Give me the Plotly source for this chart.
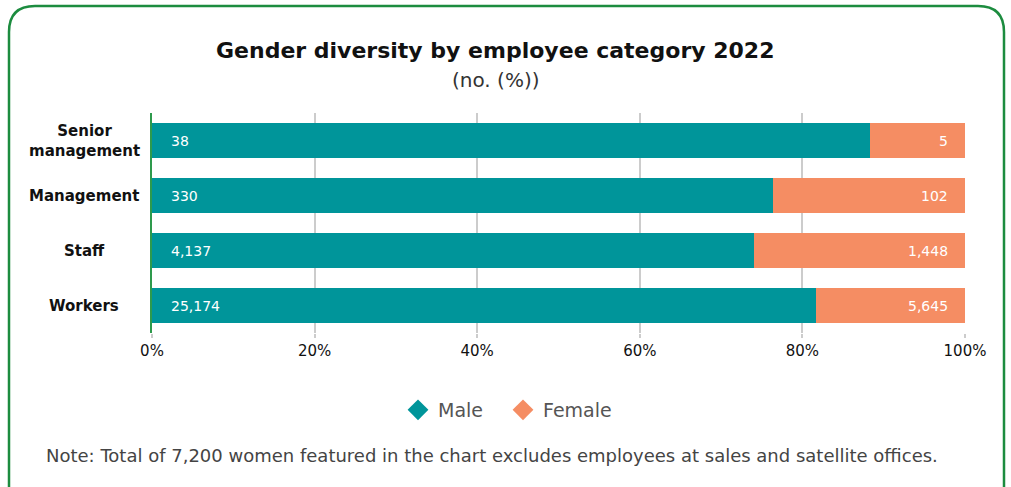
import plotly.graph_objects as go

categories = ["Senior<br>management", "Management", "Staff", "Workers"]
male = [38, 330, 4137, 25174]
female = [5, 102, 1448, 5645]
tick_vals = [0, 20, 40, 60, 80, 100]
tick_text = ["0%", "20%", "40%", "60%", "80%", "100%"]

MALE_C = "#00959a"
FEMALE_C = "#f58d63"
GREEN = "#1c8c3f"
FONT = "DejaVu Sans, sans-serif"

W, H = 1011, 487
L, R, T, B = 152, 46, 113, 154
pw, ph = W - L - R, H - T - B


def px(x):
    return (x - L) / pw


def py(y):
    return (H - B - y) / ph


fig = go.Figure()

totals = [m + f for m, f in zip(male, female)]
fig.add_trace(go.Bar(
    y=categories, x=[m / t * 100 for m, t in zip(male, totals)],
    orientation="h", marker=dict(color=MALE_C, line=dict(width=0)),
    width=0.64, showlegend=False, hoverinfo="skip",
))
fig.add_trace(go.Bar(
    y=categories, x=[f / t * 100 for f, t in zip(female, totals)],
    orientation="h", marker=dict(color=FEMALE_C, line=dict(width=0)),
    width=0.64, showlegend=False, hoverinfo="skip",
))

# legend with diamond markers, one legend box per entry
for name, c, lg in [("Male", MALE_C, "legend"), ("Female", FEMALE_C, "legend2")]:
    fig.add_trace(go.Scatter(
        x=[None], y=[None], mode="markers", name=name, legend=lg,
        marker=dict(symbol="diamond", size=18, color=c),
    ))

# category labels (centred, bold) and value labels inside bars
for cat, m, f in zip(categories, male, female):
    fig.add_annotation(xref="paper", x=px(84), y=cat, text=f"<b>{cat}</b>",
                       showarrow=False, xanchor="center", yanchor="middle",
                       font=dict(color="#111", size=15, family=FONT))
    fig.add_annotation(x=0, y=cat, text=f"{m:,}", showarrow=False,
                       xanchor="left", xshift=17,
                       font=dict(color="white", size=14, family=FONT))
    fig.add_annotation(x=100, y=cat, text=f"{f:,}", showarrow=False,
                       xanchor="right", xshift=-15,
                       font=dict(color="white", size=14, family=FONT))

# title, subtitle, note
fig.add_annotation(xref="paper", yref="paper", x=px(495), y=py(50),
                   text="<b>Gender diversity by employee category 2022</b>",
                   showarrow=False, xanchor="center", yanchor="middle",
                   font=dict(size=22, color="#111", family=FONT))
fig.add_annotation(xref="paper", yref="paper", x=px(496), y=py(80),
                   text="(no. (%))", showarrow=False,
                   xanchor="center", yanchor="middle",
                   font=dict(size=20, color="#333", family=FONT))
fig.add_annotation(xref="paper", yref="paper", x=px(44), y=py(455),
                   text="Note: Total of 7,200 women featured in the chart excludes employees at sales and satellite offices.",
                   showarrow=False, xanchor="left", yanchor="middle",
                   font=dict(size=18, color="#444", family=FONT))

# rounded green frame
x0, x1, y0, y1, r = 9, 1004, 6, 520, 26
path = (f"M {px(x0)},{py(y1)} L {px(x0)},{py(y0 + r)} "
        f"Q {px(x0)},{py(y0)} {px(x0 + r)},{py(y0)} "
        f"L {px(x1 - r)},{py(y0)} "
        f"Q {px(x1)},{py(y0)} {px(x1)},{py(y0 + r)} "
        f"L {px(x1)},{py(y1)}")
fig.add_shape(type="path", xref="paper", yref="paper", path=path,
              line=dict(color=GREEN, width=2.5), layer="above")

legend_style = dict(orientation="h", xanchor="left", y=py(410),
                    yanchor="middle", font=dict(size=19, color="#555"),
                    itemwidth=30, bgcolor="rgba(0,0,0,0)")
fig.update_layout(
    barmode="stack",
    width=W, height=H,
    margin=dict(l=L, r=R, t=T, b=B, autoexpand=False),
    plot_bgcolor="white", paper_bgcolor="white",
    font=dict(family=FONT, color="#111"),
    legend=dict(x=px(398), **legend_style),
    legend2=dict(x=px(503), **legend_style),
    bargap=0.36,
)
fig.update_xaxes(range=[0, 100], tickvals=tick_vals, ticktext=tick_text,
                 showgrid=True, gridcolor="#cccccc", gridwidth=2,
                 zeroline=False, ticks="outside", ticklen=4, tickcolor="#cccccc",
                 tickwidth=2, tickfont=dict(size=15, color="#111"), fixedrange=True)
fig.update_yaxes(autorange="reversed", showline=True, linecolor="#2e9a4c",
                 linewidth=2, ticks="", showticklabels=False, showgrid=False,
                 categoryorder="array", categoryarray=categories)

fig.write_html("out.html", config={"displayModeBar": False},
               post_script="document.body.style.margin='0';")
